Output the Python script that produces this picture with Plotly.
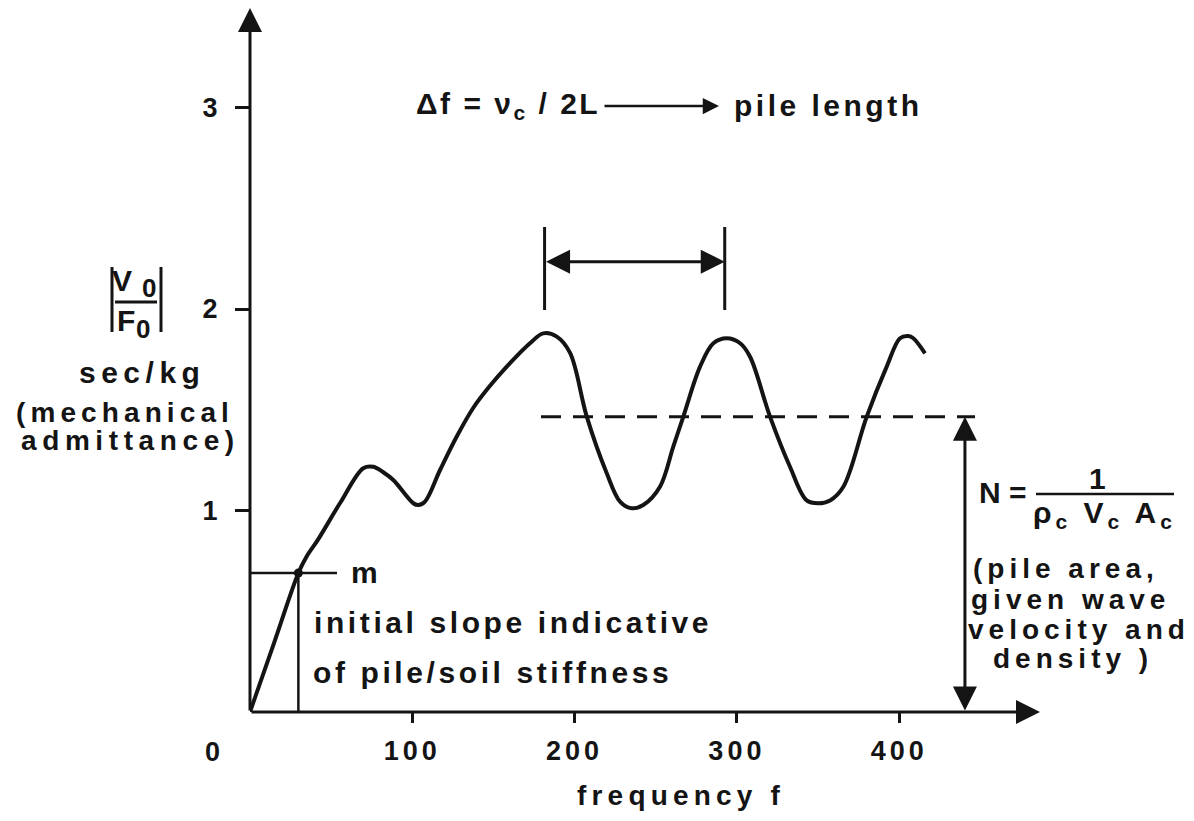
import plotly.graph_objects as go

# Mechanical admittance |V0/F0| (sec/kg) of a pile versus frequency f
freq = [0, 15, 29.8, 34.9, 42.1, 55.5, 69.8, 76.0, 82.1, 88.3, 100.6, 103.7, 107.8,
        117.1, 127.3, 137.6, 147.5, 158.2, 172.5, 180.7, 189.0, 197.2, 207.5, 219.8, 228.0, 235.2,
        242.3, 252.6, 260.8, 267.0, 277.3, 285.5, 293.7, 302.0, 308.1, 320.4, 332.7,
        343.0, 350.2, 357.4, 365.6, 380.0, 392.3, 400.5, 405.6, 408.7, 415.9]
admittance = [0.0, 0.347, 0.69, 0.772, 0.858, 1.037, 1.21, 1.217, 1.19, 1.151, 1.036, 1.027, 1.044,
              1.201, 1.366, 1.51, 1.615, 1.714, 1.83, 1.879, 1.863, 1.782, 1.466, 1.185, 1.044, 1.011,
              1.027, 1.118, 1.317, 1.466, 1.714, 1.83, 1.855, 1.83, 1.763, 1.466, 1.217,
              1.05, 1.036, 1.05, 1.118, 1.466, 1.714, 1.855, 1.866, 1.855, 1.78]

x_ticks = [100, 200, 300, 400]
y_ticks = [1, 2, 3]

# characteristic admittance level N and where its arrow stands
n_level = 1.465
n_line_start, n_line_end = 179.3, 446.7
n_arrow_freq = 440.5

# resonance spacing delta f (between two successive peaks)
delta_f_start, delta_f_end = 181.5, 292.5
delta_marker_low, delta_marker_high, delta_arrow_level = 1.995, 2.407, 2.235

# initial-slope point m
m_freq, m_level, m_line_end = 29.8, 0.69, 53.6

X_MAX, Y_MAX = 486.75, 3.4938

INK = "#141414"
FONT = "Liberation Sans, Arial, Helvetica, sans-serif"

# plot area in pixels (for placing free text in paper coordinates)
L, R, T, B = 250, 154, 8, 109
W, H = 1194, 821
PW, PH = W - L - R, H - T - B


def px(x):
    return (x - L) / PW


def py(y):
    return (H - B - y) / PH


def spaced(text, spacing):
    return f'<span style="letter-spacing:{spacing}px">{text}</span>'


def label(text, x, y, size=30, xanchor="center", spacing=3.5):
    return dict(
        text=spaced(text, spacing),
        x=px(x), y=py(y), xref="paper", yref="paper",
        xanchor=xanchor, yanchor="middle", showarrow=False,
        font=dict(family=FONT, size=size, color=INK, weight="bold"),
    )


def arrow(x0, y0, x1, y1, both=False, width=3, size=1.6):
    d = dict(
        x=x1, y=y1, ax=x0, ay=y0, text="", showarrow=True,
        xref="x", yref="y", axref="x", ayref="y",
        arrowhead=2, arrowsize=size, arrowwidth=width, arrowcolor=INK,
        standoff=0, startstandoff=0,
    )
    if both:
        d.update(arrowside="end+start", startarrowhead=2, startarrowsize=size)
    return d


fig = go.Figure()

fig.add_trace(go.Scatter(
    x=freq, y=admittance, mode="lines",
    line=dict(color=INK, width=4, shape="spline", smoothing=1.0),
    hoverinfo="skip", showlegend=False,
))

fig.add_trace(go.Scatter(
    x=[m_freq], y=[m_level], mode="markers",
    marker=dict(color=INK, size=9),
    hoverinfo="skip", showlegend=False,
))

shapes = [
    # characteristic level N (dashed)
    dict(type="line", xref="x", yref="y", x0=n_line_start, x1=n_line_end,
         y0=n_level, y1=n_level, line=dict(color=INK, width=3, dash="20px,12px")),
    # delta f bounding marks
    dict(type="line", xref="x", yref="y", x0=delta_f_start, x1=delta_f_start,
         y0=delta_marker_low, y1=delta_marker_high, line=dict(color=INK, width=3)),
    dict(type="line", xref="x", yref="y", x0=delta_f_end, x1=delta_f_end,
         y0=delta_marker_low, y1=delta_marker_high, line=dict(color=INK, width=3)),
    # initial slope construction at m
    dict(type="line", xref="x", yref="y", x0=0, x1=m_line_end,
         y0=m_level, y1=m_level, line=dict(color=INK, width=2.5)),
    dict(type="line", xref="x", yref="y", x0=m_freq, x1=m_freq,
         y0=0, y1=m_level, line=dict(color=INK, width=2.5)),
    # |V0/F0| bars and fraction rule
    dict(type="line", xref="paper", yref="paper", x0=px(112), x1=px(112),
         y0=py(267), y1=py(332), line=dict(color=INK, width=3)),
    dict(type="line", xref="paper", yref="paper", x0=px(161), x1=px(161),
         y0=py(267), y1=py(332), line=dict(color=INK, width=3)),
    dict(type="line", xref="paper", yref="paper", x0=px(115), x1=px(157),
         y0=py(302), y1=py(302), line=dict(color=INK, width=3)),
    # fraction rule of N
    dict(type="line", xref="paper", yref="paper", x0=px(1036), x1=px(1174),
         y0=py(494), y1=py(494), line=dict(color=INK, width=2.5)),
]

headline_arrow = dict(
    x=px(719), y=py(106), xref="paper", yref="paper",
    axref="pixel", ayref="pixel", ax=-116, ay=0,
    text="", showarrow=True, arrowhead=2, arrowsize=1.3, arrowwidth=2.5,
    arrowcolor=INK, standoff=0,
)

annotations = [
    # axes with arrow tips
    arrow(0, 0, X_MAX, 0),
    arrow(0, 0, 0, Y_MAX),
    # delta f span
    arrow(delta_f_start, delta_arrow_level, delta_f_end, delta_arrow_level, both=True),
    # N span
    arrow(n_arrow_freq, 0, n_arrow_freq, n_level, both=True),
    headline_arrow,

    label("0", 212, 752, size=27, spacing=0),
    label("frequency f", 681, 795, size=28, spacing=5.2),

    label("Δf = ν<sub>c</sub> / 2L", 414, 106, xanchor="left", spacing=2.5),
    label("pile length", 732, 106, xanchor="left", spacing=3.5),

    label("m", 349, 572, xanchor="left", spacing=0),
    label("initial slope indicative", 312, 622, xanchor="left", spacing=3.6),
    label("of pile/soil stiffness", 311, 672, xanchor="left", spacing=3.6),

    label("V", 122, 280, spacing=0),
    label("0", 149, 288, size=26, spacing=0),
    label("F", 126, 320, spacing=0),
    label("0", 143, 329, size=26, spacing=0),
    label("sec/kg", 142, 372, spacing=5.5),
    label("(mechanical", 125, 412, size=28, spacing=5.1),
    label("admittance)", 130, 441, size=28, spacing=5.6),

    label("N =", 977, 492, xanchor="left", spacing=0),
    label("1", 1097, 479, spacing=0),
    label("ρ<sub>c</sub> V<sub>c</sub> A<sub>c</sub>", 1104, 514, spacing=4),
    label("(pile area,", 971, 568, size=28, xanchor="left", spacing=5),
    label("given wave", 969, 599, size=28, xanchor="left", spacing=5),
    label("velocity and", 966, 629, size=28, xanchor="left", spacing=5),
    label("density )", 991, 658, size=28, xanchor="left", spacing=5),
]

tick_font = dict(family=FONT, size=27, color=INK, weight="bold")

fig.update_layout(
    width=W, height=H,
    margin=dict(l=L, r=R, t=T, b=B, pad=0),
    paper_bgcolor="white", plot_bgcolor="white",
    showlegend=False,
    shapes=shapes,
    annotations=annotations,
    xaxis=dict(
        range=[0, X_MAX], tickvals=x_ticks,
        ticktext=[spaced(str(v), 4) for v in x_ticks],
        ticks="outside", ticklen=10, tickwidth=2.5, tickcolor=INK,
        tickfont=tick_font, ticklabelstandoff=5,
        showgrid=False, zeroline=False, showline=False, fixedrange=True,
    ),
    yaxis=dict(
        range=[0, Y_MAX], tickvals=y_ticks, ticktext=[str(v) for v in y_ticks],
        ticks="outside", ticklen=14, tickwidth=2.5, tickcolor=INK,
        tickfont=tick_font, ticklabelstandoff=12,
        showgrid=False, zeroline=False, showline=False, fixedrange=True,
    ),
)

fig.write_html("out.html")
